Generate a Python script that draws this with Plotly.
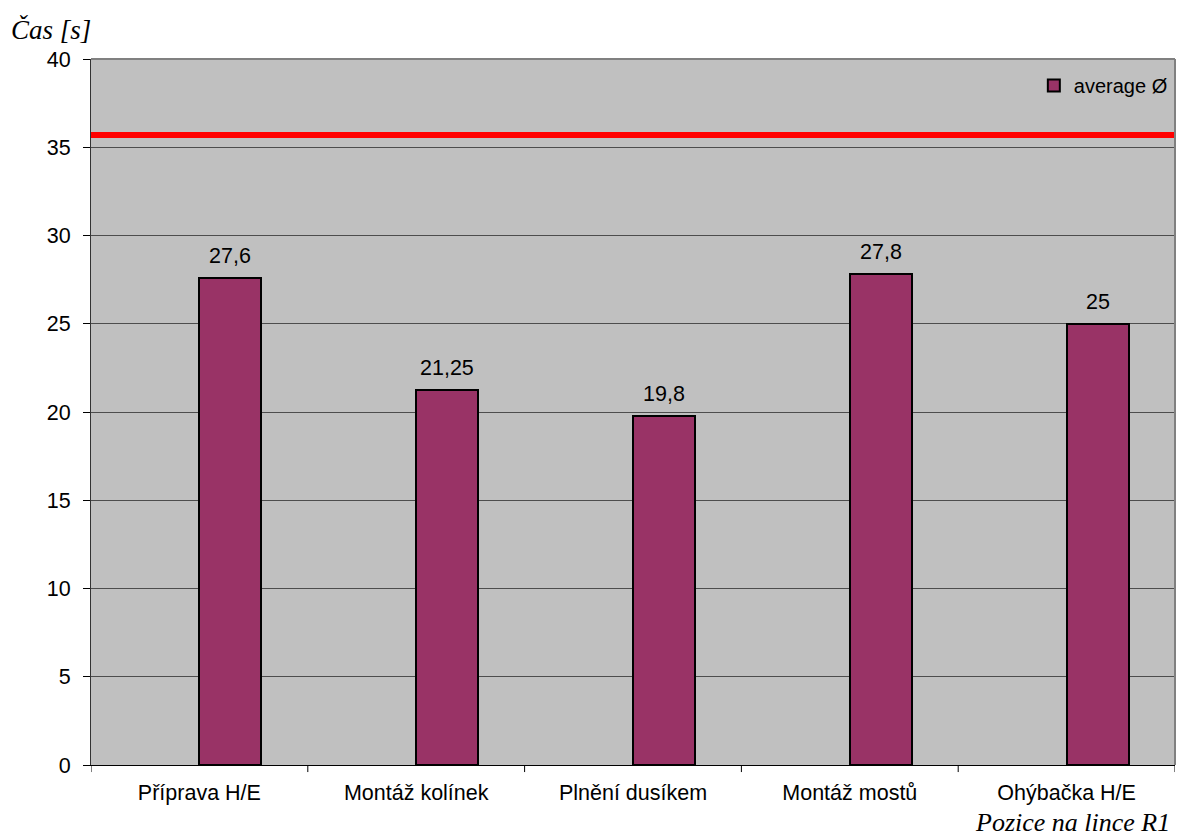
import plotly.graph_objects as go

categories = ["Příprava H/E", "Montáž kolínek", "Plnění dusíkem", "Montáž mostů", "Ohýbačka H/E"]
average_s = [27.6, 21.25, 19.8, 27.8, 25]
value_labels = ["27,6", "21,25", "19,8", "27,8", "25"]
limit_s = 35.7
y_ticks = [0, 5, 10, 15, 20, 25, 30, 35, 40]

FS = 21.5  # general label font size

fig = go.Figure()
fig.add_trace(go.Bar(
    x=categories, y=average_s, name="average Ø",
    marker=dict(color="#993366", line=dict(color="black", width=2)),
    width=0.286, offset=0.0,
))

# value labels above each bar
label_annotations = [
    dict(x=i, y=v, xref="x", yref="y", text=t, showarrow=False,
         xshift=0.143 * 216.8, yshift=22, yanchor="middle", xanchor="center",
         font=dict(family="Arial", size=FS, color="black"))
    for i, (v, t) in enumerate(zip(average_s, value_labels))
]

fig.add_shape(type="line", xref="paper", yref="y", x0=0, x1=1, y0=limit_s, y1=limit_s,
              line=dict(color="#FF0000", width=6), layer="above")

fig.update_layout(
    width=1177, height=838,
    margin=dict(l=91, r=2, t=59, b=73),
    paper_bgcolor="white", plot_bgcolor="#C0C0C0",
    font=dict(family="Arial", size=FS, color="black"),
    showlegend=True,
    legend=dict(x=0.998, y=0.99, xanchor="right", yanchor="top",
                bgcolor="rgba(0,0,0,0)", font=dict(size=20, family="Arial"),
                itemwidth=30),
    bargap=0.0,
    xaxis=dict(showgrid=False, showline=True, linecolor="black", linewidth=1,
               ticks="", tickfont=dict(size=FS), range=[-0.5, 4.5],
               ticklabelstandoff=8),
    yaxis=dict(range=[0, 40], tickvals=y_ticks, showgrid=True, gridcolor="#4d4d4d",
               gridwidth=1, showline=True, linecolor="#333333", linewidth=1,
               ticks="outside", ticklen=7, tickcolor="black", tickfont=dict(size=FS),
               zeroline=False, ticklabelstandoff=8),
    annotations=label_annotations + [
        dict(text="<i>Čas [s]</i>", xref="paper", yref="paper", x=0, xshift=-82, y=1.0, yshift=29,
             xanchor="left", yanchor="middle", showarrow=False,
             font=dict(family="Liberation Serif", size=27)),
        dict(text="<i>Pozice na lince R1</i>", xref="paper", yref="paper", x=1.0, xshift=-3,
             y=0, yshift=-57, xanchor="right", yanchor="middle", showarrow=False,
             font=dict(family="Liberation Serif", size=26)),
    ],
)

# category boundary tick marks below the x axis
for i in range(6):
    fig.add_shape(type="line", xref="x", yref="paper", x0=i - 0.5, x1=i - 0.5,
                  y0=0, y1=-0.01, line=dict(color="black", width=1))
# frame on top and right edges of the plot area
fig.add_shape(type="line", xref="paper", yref="paper", x0=0, x1=1, y0=1, y1=1,
              line=dict(color="#808080", width=2))
fig.add_shape(type="line", xref="paper", yref="paper", x0=1, x1=1, y0=0, y1=1,
              line=dict(color="#808080", width=2))

fig.write_html("out.html")
